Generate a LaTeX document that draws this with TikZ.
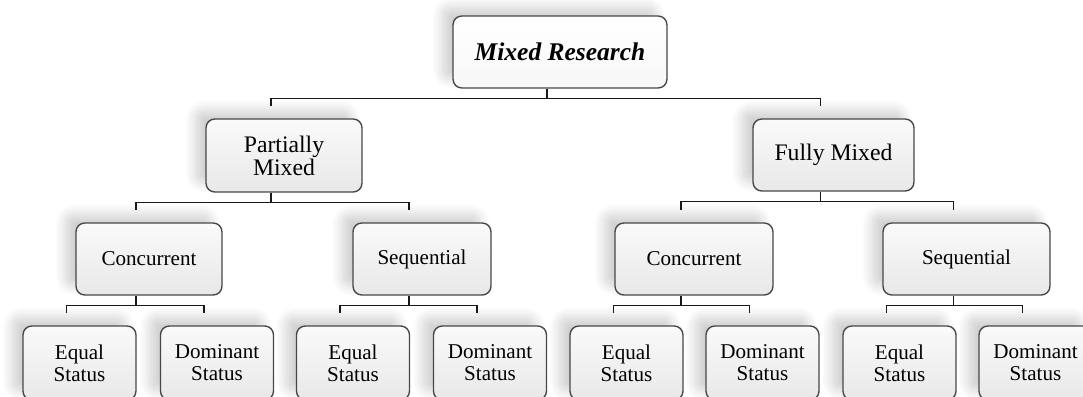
\documentclass[tikz,border=0pt]{standalone}
\usepackage{fontspec}
\setmainfont{Liberation Serif}
\usetikzlibrary{calc, shadows.blur}

\tikzset{
    box/.style={draw=black!72, line width=0.8pt, rounded corners=5pt,
        top color=black!2, bottom color=black!9, align=center, inner sep=1pt,
        minimum height=1.44cm, font=\fontsize{12}{12.5}\selectfont,
        blur shadow={shadow xshift=-0.22cm, shadow yshift=0.18cm,
            shadow opacity=18, shadow blur radius=0.2cm, shadow blur steps=10}},
    leaf/.style={box, minimum width=2.26cm, minimum height=1.48cm},
    link/.style={black!90, line width=0.9pt},
}
\newcommand{\tie}[2]{\draw[link] ($(#1.south)+(-13,0)$) -- ++(0,10) -| ($(#2.north)+(-13,-12)$);}

\begin{document}
\begin{tikzpicture}[x=0.02cm, y=-0.02cm]
    \useasboundingbox (0,0) rectangle (1083,396);
    \clip (0,0) rectangle (1083,396);
    % top and second level
    \path (560,52) node [box, top color=white, bottom color=black!3, minimum width=4.28cm,
            font=\fontsize{14.5}{15}\selectfont\bfseries\itshape] (mixed) {Mixed Research}
        (284,155.5) node [box, minimum width=3.12cm, minimum height=1.46cm,
            font=\fontsize{13.5}{13}\selectfont] (partial) {Partially\\Mixed}
        (833.5,155) node [box, minimum width=3.22cm,
            font=\fontsize{13.5}{13}\selectfont] (fully) {Fully Mixed};
    % third level
    \path (149,259) node [box, minimum width=2.92cm] (pconc) {Concurrent}
        (422,259) node [box, minimum width=2.76cm] (pseq) {Sequential}
        (694,259) node [box, minimum width=3.16cm] (fconc) {Concurrent}
        (966.5,259) node [box, minimum width=3.34cm] (fseq) {Sequential};
    % leaves
    \path (79.5,363) node [leaf] (pconceq) {Equal\\Status}
        (217,363) node [leaf] (pconcdom) {Dominant\\Status}
        (353,363) node [leaf] (pseqeq) {Equal\\Status}
        (490,363) node [leaf] (pseqdom) {Dominant\\Status}
        (626.5,363) node [leaf] (fconceq) {Equal\\Status}
        (762.5,363) node [leaf] (fconcdom) {Dominant\\Status}
        (899.5,363) node [leaf] (fseqeq) {Equal\\Status}
        (1035.5,363) node [leaf] (fseqdom) {Dominant\\Status};

    \tie{mixed}{partial} \tie{mixed}{fully}
    \tie{partial}{pconc} \tie{partial}{pseq}
    \tie{fully}{fconc} \tie{fully}{fseq}
    \tie{pconc}{pconceq} \tie{pconc}{pconcdom}
    \tie{pseq}{pseqeq} \tie{pseq}{pseqdom}
    \tie{fconc}{fconceq} \tie{fconc}{fconcdom}
    \tie{fseq}{fseqeq} \tie{fseq}{fseqdom}
\end{tikzpicture}
\end{document}
